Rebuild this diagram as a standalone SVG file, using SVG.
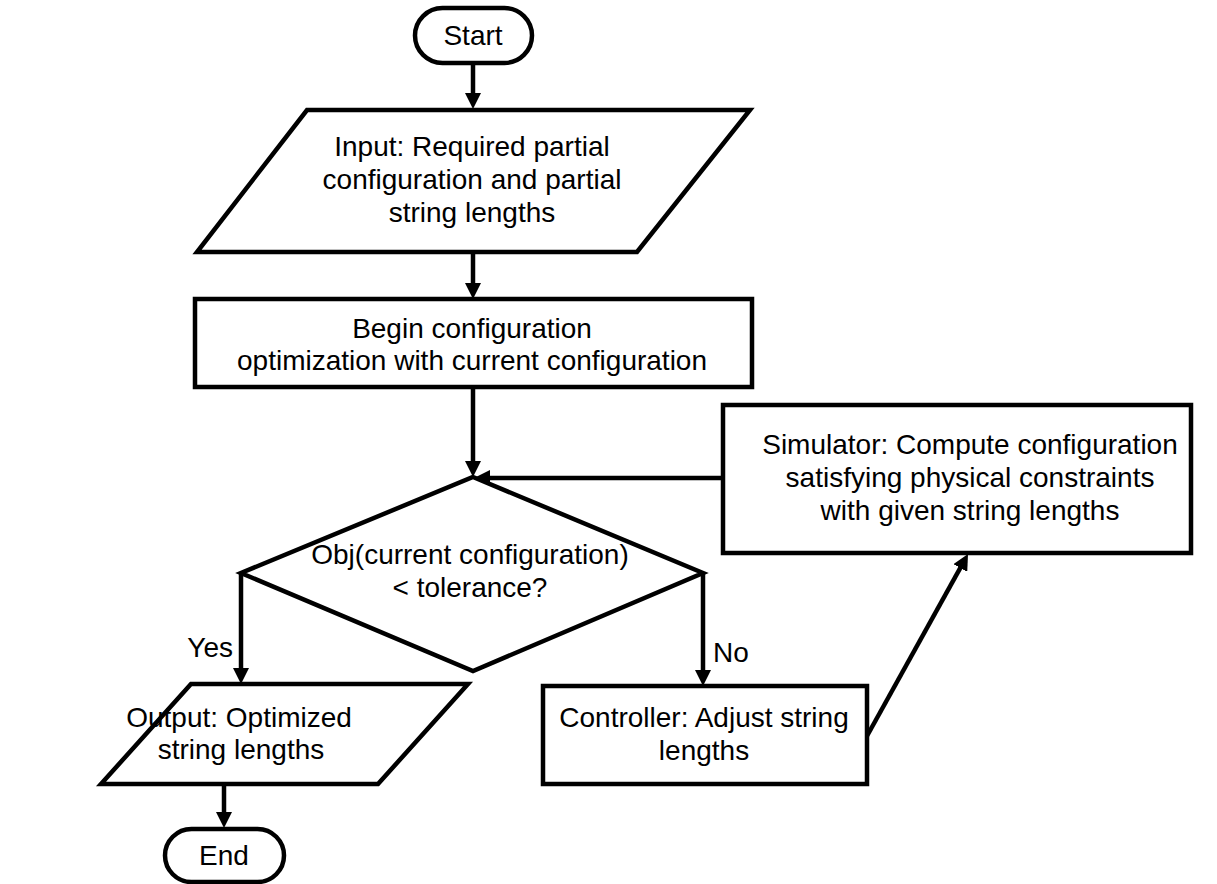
<svg xmlns="http://www.w3.org/2000/svg" width="1217" height="884" viewBox="0 0 1217 884">
<style>
.shape{fill:#fff;stroke:#000;stroke-width:4.5;stroke-linejoin:miter}
.lbl{font-family:"Liberation Sans",Arial,sans-serif;font-size:28px;fill:#000;text-anchor:middle}
.edge{fill:none;stroke:#000;stroke-width:4.5;marker-end:url(#arr)}
</style>
<defs>
<marker id="arr" viewBox="0 0 16 16" markerWidth="16" markerHeight="16" markerUnits="userSpaceOnUse" refX="3" refY="8" orient="auto">
<path d="M0,0 L16,8 L0,16 z" fill="#000"/>
</marker>
</defs>
<rect width="1217" height="884" fill="#fff"/>
<g id="connectors">
<line class="edge" x1="473" y1="63" x2="473" y2="96"/>
<line class="edge" x1="473" y1="252" x2="473" y2="286"/>
<line class="edge" x1="473" y1="387" x2="473" y2="464"/>
<line class="edge" x1="723" y1="478" x2="487" y2="478"/>
<line class="edge" x1="241" y1="573" x2="241" y2="671"/>
<line class="edge" x1="703" y1="573" x2="703" y2="673"/>
<line class="edge" x1="224" y1="784" x2="224" y2="815"/>
<line class="edge" x1="867" y1="736" x2="961.7" y2="565.4"/>
<text class="lbl" x="233" y="657" style="text-anchor:end">Yes</text>
<text class="lbl" x="713" y="662" style="text-anchor:start">No</text>
</g>
<g id="start">
<rect class="shape" x="415" y="8" width="117" height="55" rx="27.5"/>
<text class="lbl" x="473" y="45">Start</text>
</g>
<g id="input">
<polygon class="shape" points="307,110 750,110 637,252 197,252"/>
<text class="lbl" x="472" y="156">Input: Required partial</text>
<text class="lbl" x="472" y="189">configuration and partial</text>
<text class="lbl" x="472" y="222">string lengths</text>
</g>
<g id="begin">
<rect class="shape" x="195" y="299" width="557" height="88"/>
<text class="lbl" x="472" y="338">Begin configuration</text>
<text class="lbl" x="472" y="370">optimization with current configuration</text>
</g>
<g id="decision">
<polygon class="shape" points="473,477 703,573 473,671 241,573"/>
<text class="lbl" x="470" y="564">Obj(current configuration)</text>
<text class="lbl" x="470" y="597">&lt; tolerance?</text>
</g>
<g id="simulator">
<rect class="shape" x="723" y="405" width="468" height="148"/>
<text class="lbl" x="970" y="454">Simulator: Compute configuration</text>
<text class="lbl" x="970" y="487">satisfying physical constraints</text>
<text class="lbl" x="970" y="520">with given string lengths</text>
</g>
<g id="output">
<polygon class="shape" points="191,684 468,684 378,784 101,784"/>
<text class="lbl" x="239" y="727">Output: Optimized</text>
<text class="lbl" x="241" y="759">string lengths</text>
</g>
<g id="controller">
<rect class="shape" x="543" y="686" width="324" height="98"/>
<text class="lbl" x="704" y="727">Controller: Adjust string</text>
<text class="lbl" x="704" y="760">lengths</text>
</g>
<g id="end">
<rect class="shape" x="165" y="829" width="119" height="53" rx="26.5"/>
<text class="lbl" x="224" y="865">End</text>
</g>
</svg>
